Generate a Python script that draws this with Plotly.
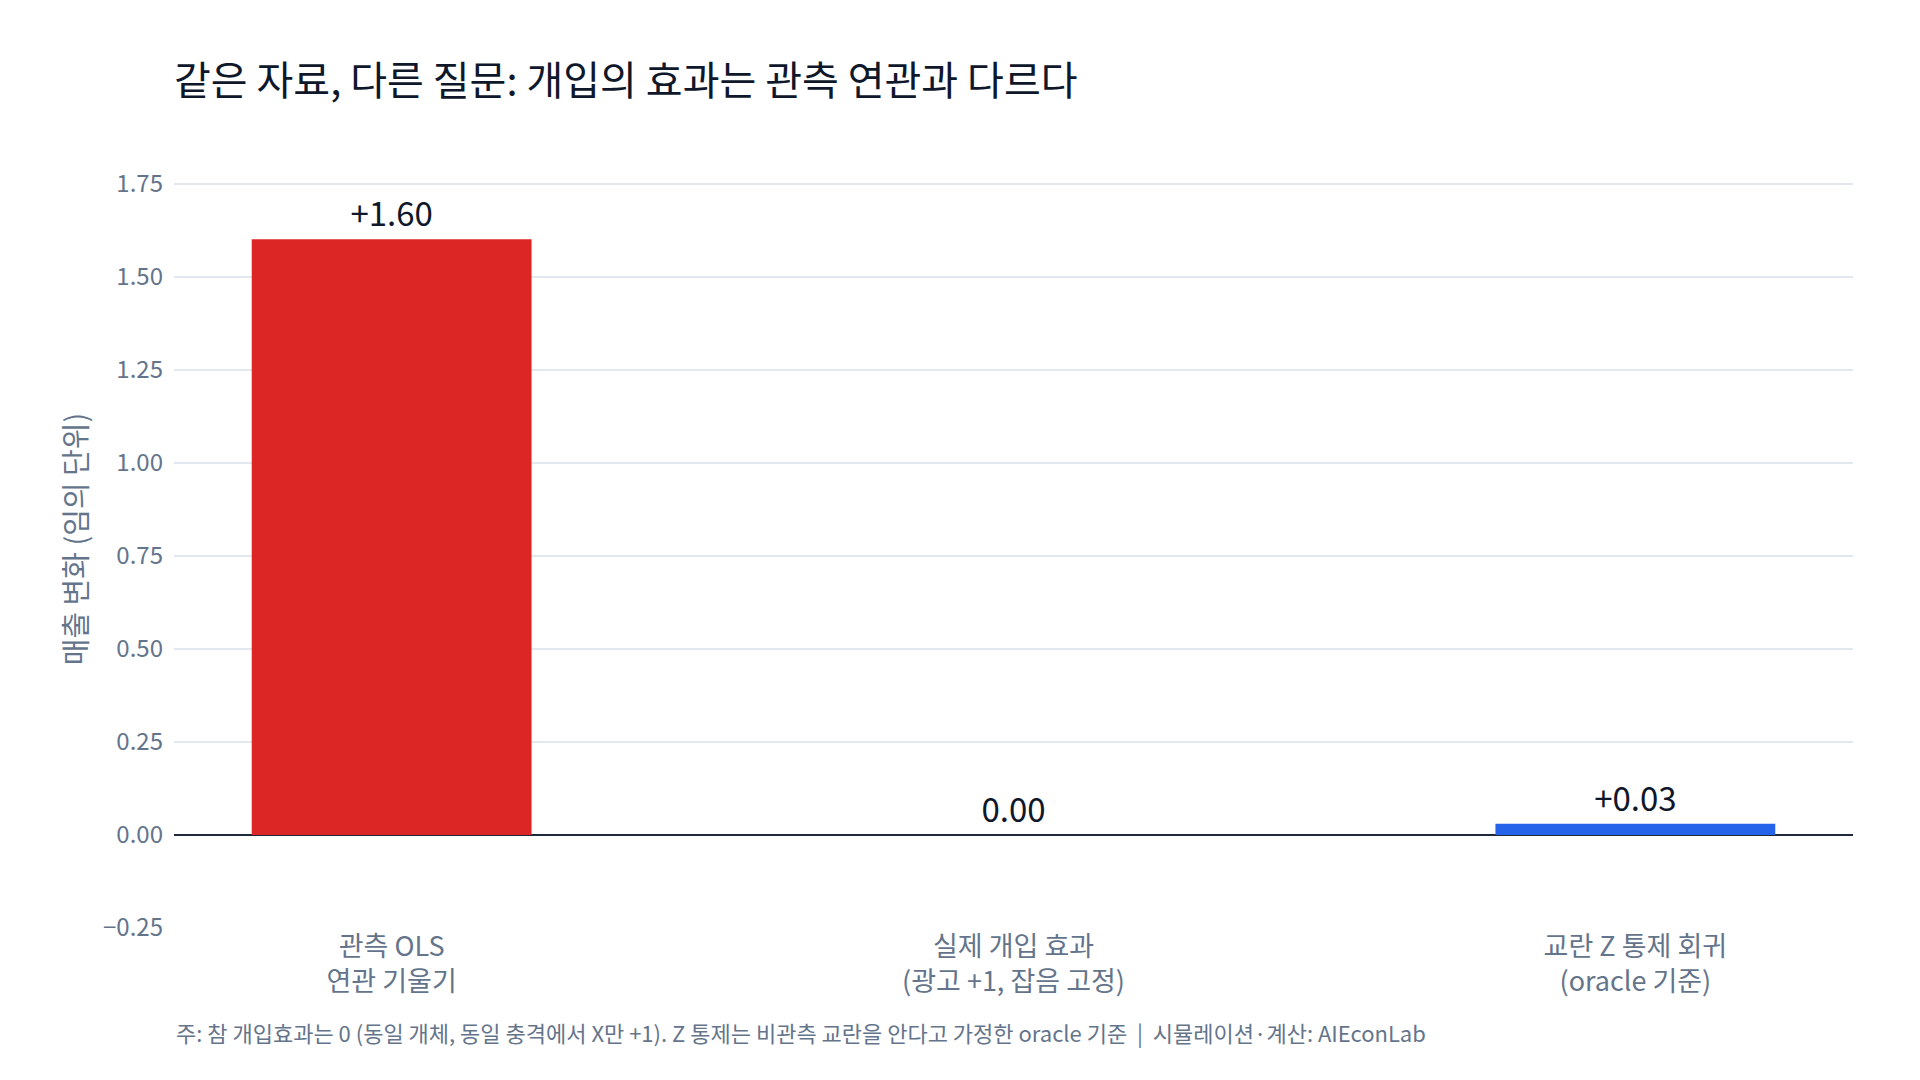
import plotly.graph_objects as go

categories = ["관측 OLS<br>연관 기울기", "실제 개입 효과<br>(광고 +1, 잡음 고정)", "교란 Z 통제 회귀<br>(oracle 기준)"]
values = [1.60, 0.00, 0.03]
labels = ["+1.60", "0.00", "+0.03"]
colors = ["#dc2626", "#1e293b", "#2563eb"]
tick_vals = [-0.25, 0, 0.25, 0.5, 0.75, 1.0, 1.25, 1.5, 1.75]

FONT = "Noto Sans CJK KR"

fig = go.Figure(go.Bar(
    x=categories, y=values, marker_color=colors, width=0.45,
    marker_line_width=0,
    text=labels, textposition="outside",
    textfont=dict(size=33, color="#0f172a"), cliponaxis=False,
))

fig.update_layout(
    width=1920, height=1080,
    paper_bgcolor="white", plot_bgcolor="white",
    font=dict(family=FONT, color="#64748b", size=22),
    title=dict(text="같은 자료, 다른 질문: 개입의 효과는 관측 연관과 다르다",
               x=0, xref="paper", xanchor="left", y=0.925, yanchor="middle",
               font=dict(size=40, color="#0f172a", family=FONT)),
    margin=dict(l=174, r=67, t=150, b=152),
    showlegend=False,
    xaxis=dict(range=[-0.35, 2.35], showgrid=False, tickfont=dict(size=27, color="#64748b")),
    yaxis=dict(range=[-0.25, 1.84], tickvals=tick_vals, tickformat=".2f",
               gridcolor="#e2e8f0", gridwidth=1.5,
               zeroline=True, zerolinecolor="#1e293b", zerolinewidth=2,
               ticklabelstandoff=10,
               tickfont=dict(size=24, color="#64748b"),
               title=dict(text="매출 변화 (임의 단위)", font=dict(size=29, color="#64748b"), standoff=6)),
    annotations=[dict(
        text="주: 참 개입효과는 0 (동일 개체, 동일 충격에서 X만 +1). Z 통제는 비관측 교란을 안다고 가정한 oracle 기준  |  시뮬레이션·계산: AIEconLab",
        x=0, xref="paper", y=-0.134, yref="paper", xanchor="left", yanchor="middle",
        showarrow=False, font=dict(size=22, color="#64748b"))],
)

fig.write_html("out.html")
